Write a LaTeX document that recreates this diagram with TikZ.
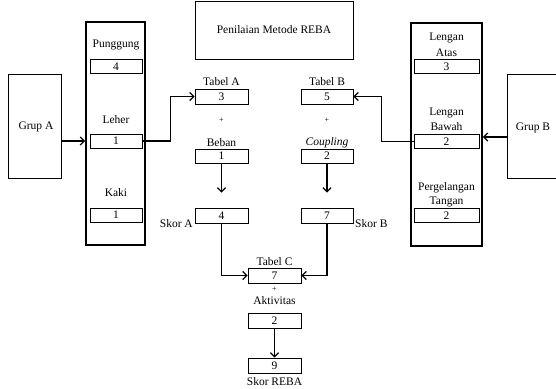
\documentclass[tikz,border=0pt]{standalone}
\usepackage{fontspec}
\setmainfont{Liberation Serif}
\usetikzlibrary{arrows.meta}
\begin{document}
\begin{tikzpicture}[x=1pt,y=-1pt,
  every node/.style={font=\fontsize{11.5}{13}\selectfont, inner sep=0pt},
  col/.style={draw, line width=1.8pt},
  bigbox/.style={draw, line width=0.8pt},
  sbox/.style={draw, line width=0.8pt, minimum width=53pt, minimum height=15pt},
  plussign/.style={font=\fontsize{8}{9}\selectfont},
  conn/.style={line width=1.3pt, -{Straight Barb[length=4pt,width=8pt,line width=1.3pt]}}]
\useasboundingbox (0,0) rectangle (556,388);
% group boxes
\node[bigbox, minimum width=53pt, minimum height=104pt] (grupA) at (34.5,126) {};
\node at (36,127) (grupAt) {Grup A};
\node[bigbox, minimum width=56pt, minimum height=104pt] (grupB) at (535,126) {};
\node at (533,128) (grupBt) {Grup B};
% columns
\node[col, minimum width=59pt, minimum height=223pt] (colA) at (115.5,133.5) {};
\node[col, minimum width=71pt, minimum height=223pt] (colB) at (446.5,134.5) {};
% title
\node[bigbox, minimum width=158pt, minimum height=58pt] (title) at (274,30) {Penilaian Metode REBA};
% column A
\node (punggung) at (116,45) {Punggung};
\node[sbox, minimum width=52pt, minimum height=14pt] (pA) at (116,66.5) {4};
\node (leher) at (116,120) {Leher};
\node[sbox, minimum width=52pt, minimum height=14pt] (lA) at (116,141) {1};
\node (kaki) at (116,193) {Kaki};
\node[sbox, minimum width=52pt, minimum height=14pt] (kA) at (116,215) {1};
% column B
\node (la1) at (446.5,38) {Lengan};
\node (la2) at (446.5,53) {Atas};
\node[sbox, minimum width=65pt, minimum height=14pt] (aB) at (446.5,66.5) {3};
\node (lb1) at (446.5,113) {Lengan};
\node (lb2) at (446.5,127) {Bawah};
\node[sbox, minimum width=65pt, minimum height=14pt] (lB) at (446.5,141.5) {2};
\node (pt1) at (446.5,188) {Pergelangan};
\node (pt2) at (446.5,202) {Tangan};
\node[sbox, minimum width=65pt, minimum height=14pt] (ptB) at (446.5,215.5) {2};
% middle A
\node (tabA) at (221.5,82) {Tabel A};
\node[sbox] (tA) at (221.5,96.5) {3};
\node[plussign] (plusA) at (221.5,120) {+};
\node (beban) at (221.5,143) {Beban};
\node[sbox, minimum height=14pt] (bA) at (221.5,156) {1};
\node[sbox] (sA) at (221.5,215.5) {4};
\node[anchor=east] (skorA) at (193,224) {Skor A};
% middle B
\node (tabB) at (327,82) {Tabel B};
\node[sbox, minimum width=52pt] (tB) at (327,96.5) {5};
\node[plussign] (plusB) at (327,120) {+};
\node (coup) at (327,143) {\itshape Coupling};
\node[sbox, minimum width=52pt, minimum height=14pt] (cB) at (327,156) {2};
\node[sbox, minimum width=52pt] (sB) at (327,215.5) {7};
\node[anchor=west] (skorB) at (355,224) {Skor B};
% bottom
\node (tabC) at (274.5,262) {Tabel C};
\node[sbox] (tC) at (274.5,275.5) {7};
\node[plussign] (plusC) at (274.5,289.5) {+};
\node (akt) at (274.5,300.5) {Aktivitas};
\node[sbox] (aC) at (274.5,320.5) {2};
\node[sbox] (reba) at (274.5,365.5) {9};
\node (skorReba) at (274.5,382) {Skor REBA};
% connectors
\coordinate (gBout) at ([yshift=-11pt]grupB.west);
\coordinate (sAin) at ([yshift=15pt]sA.north);
\coordinate (sBin) at ([yshift=15pt]sB.north);
\draw[conn] (grupA.east |- lA.west) -- (colA.west |- lA.west);
\draw[conn] (gBout) -- (colB.east |- gBout);
\draw[conn] (lA.east) -- ++(28,0) |- (tA.west);
\draw[conn] (lB.west) -- ++(-32,0) |- (tB.east);
\draw[conn] (bA.south) -- (sAin);
\draw[conn] (cB.south) -- (sBin);
\draw[conn] (sA.south) |- (tC.west);
\draw[conn] (sB.south) |- (tC.east);
\draw[conn] (aC.south) -- (reba.north);
\end{tikzpicture}
\end{document}
